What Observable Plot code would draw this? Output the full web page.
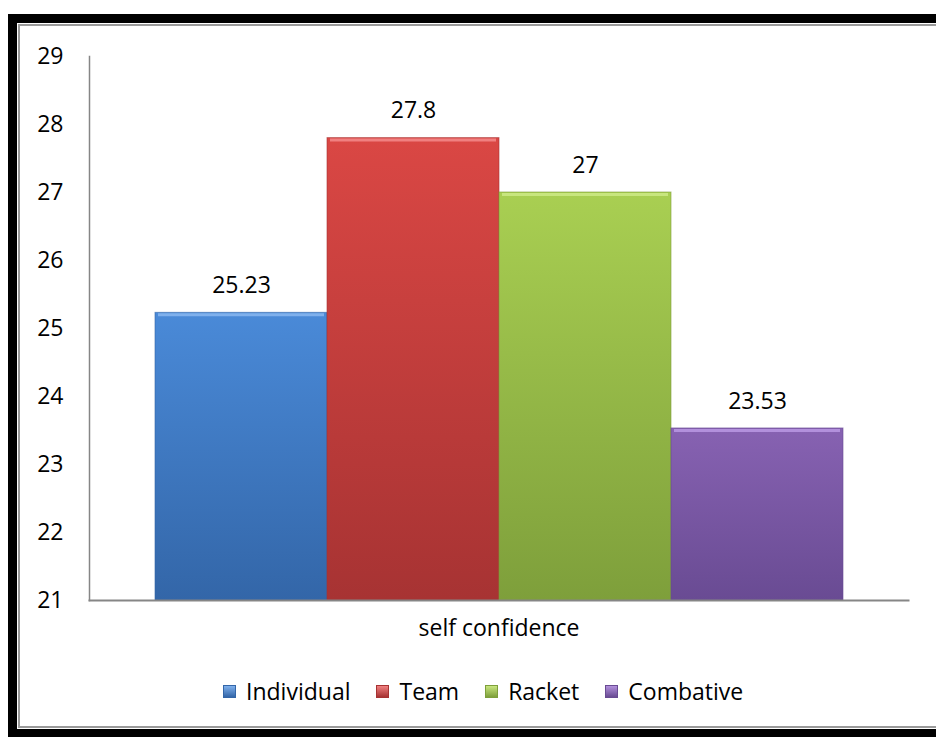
<!DOCTYPE html>
<html>
<head>
<meta charset="utf-8">
<script src="https://cdn.jsdelivr.net/npm/d3@7"></script>
<script src="https://cdn.jsdelivr.net/npm/@observablehq/plot@0.6"></script>
<style>
  html, body { margin: 0; padding: 0; width: 936px; height: 737px; overflow: hidden; background: #fff; }
  body { position: relative; font-family: "Open Sans", sans-serif; }
  .frame { position: absolute; left: 8px; top: 14px; width: 960px; height: 724px; border: 9px solid #000; box-sizing: border-box; }
  .inner { position: absolute; left: 1px; top: 1px; right: 1px; bottom: 1px; border: 2px solid #9a9a9a; border-right: none; }
  #chart { position: absolute; left: 0; top: 0; }
  #chart svg g[aria-label="y-axis tick label"] text { font-size: 23px; }
  #legend { position: absolute; left: 223px; top: 675px; display: flex; align-items: center; font-size: 23px; color: #000; }
  #legend .item { display: flex; align-items: center; margin-right: 26px; }
  #legend .sw { width: 13px; height: 13px; margin-right: 10px; box-sizing: border-box; }
</style>
</head>
<body>
<div class="frame"><div class="inner"></div></div>
<div id="chart"></div>
<div id="legend"></div>
<script>
const series = ["Individual", "Team", "Racket", "Combative"];
const values = [25.23, 27.8, 27, 23.53];
const labels = ["25.23", "27.8", "27", "23.53"];
const category = "self confidence";
const yTicks = [21, 22, 23, 24, 25, 26, 27, 28, 29];
const topColors = ["#4a8ad8", "#da4744", "#a9cf52", "#8762b2"];
const bottomColors = ["#3366a8", "#a73333", "#7e9f3b", "#694b93"];
const highlight = ["#7fb0ec", "#f08080", "#c8e67e", "#b290dc"];

const data = series.map((s, i) => ({series: s, value: values[i], label: labels[i], i}));

const defs = () => {
  const d = d3.create("svg:defs");
  series.forEach((s, i) => {
    const g = d.append("linearGradient").attr("id", "g" + i).attr("x1", 0).attr("y1", 0).attr("x2", 0).attr("y2", 1);
    g.append("stop").attr("offset", "0%").attr("stop-color", topColors[i]);
    g.append("stop").attr("offset", "100%").attr("stop-color", bottomColors[i]);
  });
  return d.node();
};

const chart = Plot.plot({
  width: 936,
  height: 660,
  marginLeft: 89,
  marginRight: 28,
  marginTop: 56,
  marginBottom: 60,
  style: {fontFamily: "Open Sans, sans-serif", fontSize: "23px", color: "#000", background: "transparent", overflow: "visible"},
  x: {domain: series, paddingInner: 0, paddingOuter: 0.37, axis: null},
  y: {domain: [21, 29], ticks: yTicks, tickSize: 0, tickPadding: 26, tickFormat: d => String(d), label: null},
  color: {type: "identity"},
  marks: [
    defs,
    Plot.barY(data, {x: "series", y1: 21, y2: "value", fill: d => `url(#g${d.i})`, stroke: d => bottomColors[d.i], strokeWidth: 1, strokeOpacity: 0.6}),
    Plot.tickY(data, {x: "series", y: "value", stroke: d => highlight[d.i], strokeWidth: 3, inset: 3, dy: 2}),
    Plot.frame({anchor: "left", stroke: "#868686", strokeWidth: 1.5}),
    Plot.frame({anchor: "bottom", stroke: "#868686", strokeWidth: 2}),
    Plot.text(data, {x: "series", y: "value", text: "label", dy: -27, fill: "#000", fontSize: 23}),
    Plot.text([category], {frameAnchor: "bottom", dy: 35, text: d => d, fill: "#000", fontSize: 23})
  ]
});
document.getElementById("chart").appendChild(chart);

const legend = document.getElementById("legend");
series.forEach((s, i) => {
  const item = document.createElement("div");
  item.className = "item";
  const sw = document.createElement("span");
  sw.className = "sw";
  sw.style.background = `linear-gradient(${highlight[i]}, ${bottomColors[i]})`;
  sw.style.border = `1px solid ${bottomColors[i]}`;
  const t = document.createElement("span");
  t.textContent = s;
  item.appendChild(sw);
  item.appendChild(t);
  legend.appendChild(item);
});
</script>
</body>
</html>
